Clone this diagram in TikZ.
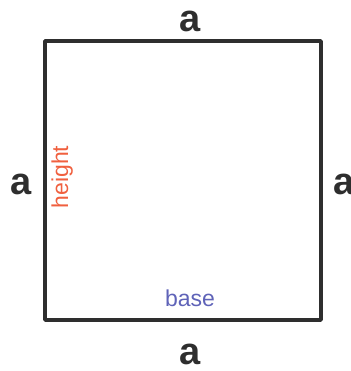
\documentclass[tikz,border=0pt]{standalone}
\usepackage{fontspec}
\setmainfont{Liberation Sans}
\usepackage{xcolor}
\usepackage{tikz}
\usetikzlibrary{positioning}
\definecolor{ink}{HTML}{2E2E2E}
\definecolor{redorange}{HTML}{F0603F}
\definecolor{slateblue}{HTML}{5F63B8}
\tikzset{
    every picture/.style={line cap=round,line join=round},
    sideline/.style={draw=ink,line width=3.6pt},
    sidename/.style={font=\fontsize{38}{38}\selectfont\bfseries,text=ink,inner sep=0pt,
      text height=21pt,text depth=0pt},
    partname/.style={font=\fontsize{23}{23}\selectfont,inner sep=0pt}
}
\begin{document}
\begin{tikzpicture}[x=1pt,y=1pt]
  \useasboundingbox (0,0) rectangle (350,371);
  % the square
  \coordinate (sw) at (45,51);
  \coordinate (ne) at (321,330);
  \draw[sideline] (sw) rectangle (ne);
  % side lengths
  \node[sidename,anchor=base] (atop) at (190,339) {a};
  \node[sidename,anchor=base] (abot) at (190,6) {a};
  \node[sidename,anchor=base west] (aleft) at (10,176) {a};
  \node[sidename,anchor=base west] (aright) at (333,176) {a};
  % parts
  \node[partname,text=redorange,rotate=90,anchor=base] (ht) at (68,194) {height};
  \node[partname,text=slateblue,anchor=base] (bs) at (190,64) {base};
\end{tikzpicture}
\end{document}
